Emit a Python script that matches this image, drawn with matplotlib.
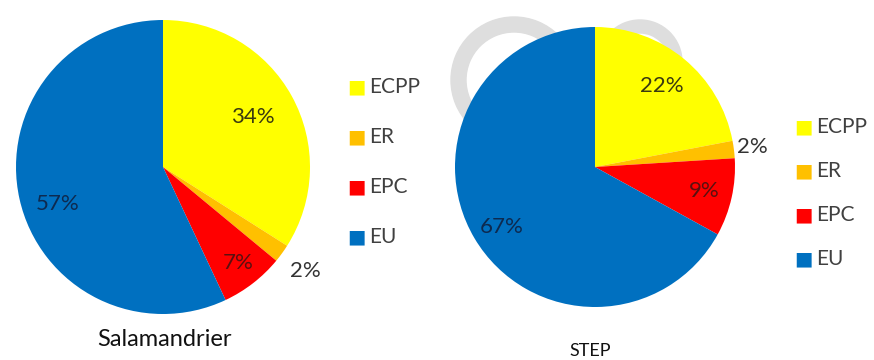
import matplotlib.pyplot as plt
from matplotlib.patches import Wedge
import numpy as np

plt.rcParams['font.family'] = ['Lato', 'DejaVu Sans']

# data
categories = ['ECPP', 'ER', 'EPC', 'EU']
colors = ['#FFFF00', '#FFC000', '#FF0000', '#0070C0']
sal_values = [34, 2, 7, 57]
step_values = [22, 2, 9, 67]
titles = ['Salamandrier', 'STEP']

# label distance from centre (fraction of radius), angle nudge (deg) and text colour per slice
sal_dist = [0.70, 1.20, 0.83, 0.76]
step_dist = [0.75, 1.13, 0.80, 0.79]
sal_nudge = [0, 0, 0, 7]
step_nudge = [0, 0, 0, 2]
txt_cols = ['#3a3a10', '#333333', '#5a1010', '#0d2a50']

fig = plt.figure(figsize=(8.74, 3.6), dpi=100)
W, H = 874, 360

# faint watermark behind the pies
bg = fig.add_axes([0, 0, 1, 1], zorder=0)
bg.set_xlim(0, W)
bg.set_ylim(H, 0)
bg.axis('off')
bg.add_patch(Wedge((514, 80), 63, 0, 360, width=15, color='#dedede'))
bg.add_patch(Wedge((640, 62), 42, 0, 360, width=13, color='#dedede'))


def draw_pie(rect, values, dist, nudge, legend_x, legend_y0, legend_dy):
    ax = fig.add_axes(rect, zorder=1)
    wedges, _ = ax.pie(values, colors=colors, startangle=90, counterclock=False,
                       radius=1, wedgeprops=dict(linewidth=0))
    ax.set_xlim(-1, 1)
    ax.set_ylim(-1, 1)
    ax.set_aspect('equal')
    ax.axis('off')
    for w, v, d, n, c in zip(wedges, values, dist, nudge, txt_cols):
        ang = np.deg2rad((w.theta1 + w.theta2) / 2 + n)
        ax.text(d * np.cos(ang), d * np.sin(ang), f'{v}%', ha='center', va='center',
                fontsize=16, color=c)
    # legend
    for i, (cat, col) in enumerate(zip(categories, colors)):
        y = legend_y0 + i * legend_dy
        fig.text(legend_x / W, 1 - y / H, '\u25A0', color=col, fontsize=14,
                 ha='left', va='center', family='DejaVu Sans')
        fig.text((legend_x + 22) / W, 1 - y / H, cat, color='#404040', fontsize=15,
                 ha='left', va='center')
    return ax


draw_pie([16 / W, (193 - 147) / H, 294 / W, 294 / H], sal_values, sal_dist, sal_nudge, 347, 87, 50)
draw_pie([455 / W, (193 - 140) / H, 280 / W, 280 / H], step_values, step_dist, step_nudge, 794, 127, 44)

fig.text(164 / W, 1 - 340 / H, titles[0], ha='center', va='center', fontsize=17, color='#111111')
fig.text(590 / W, 1 - 351 / H, titles[1], ha='center', va='center', fontsize=13, color='#111111')

fig.savefig('out.png', dpi=100)
